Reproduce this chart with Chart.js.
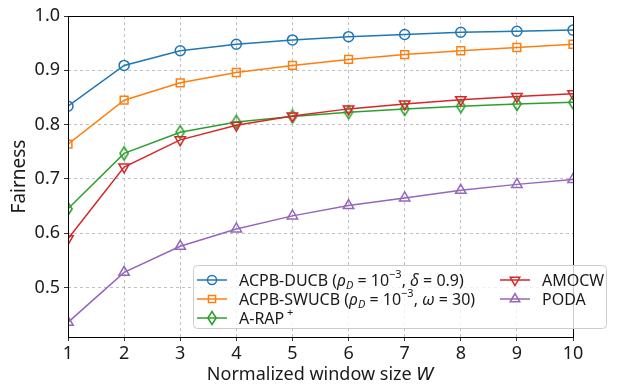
<!DOCTYPE html>
<html>
<head>
<meta charset="utf-8">
<script src="https://cdn.jsdelivr.net/npm/chart.js@4"></script>
<style>
  html, body { margin: 0; padding: 0; background: #fff; }
  #wrap { position: relative; width: 624px; height: 385px; }
</style>
</head>
<body>
<div id="wrap"><canvas id="c" width="624" height="385"></canvas></div>
<script>
var xVals = [1, 2, 3, 4, 5, 6, 7, 8, 9, 10];
var yTicks = [0.5, 0.6, 0.7, 0.8, 0.9, 1.0];
var ducb = [0.834, 0.909, 0.936, 0.948, 0.956, 0.962, 0.966, 0.970, 0.972, 0.974];
var swucb = [0.764, 0.845, 0.877, 0.896, 0.909, 0.920, 0.929, 0.936, 0.942, 0.948];
var arap = [0.645, 0.747, 0.786, 0.805, 0.815, 0.823, 0.829, 0.834, 0.838, 0.841];
var amocw = [0.590, 0.722, 0.772, 0.799, 0.816, 0.829, 0.838, 0.846, 0.852, 0.857];
var poda = [0.436, 0.528, 0.576, 0.608, 0.632, 0.651, 0.665, 0.679, 0.690, 0.699];

var blue = '#1f77b4', orange = '#ff7f0e', green = '#2ca02c', red = '#d62728', purple = '#9467bd';
var textColor = '#1a1a1a';
var fam = '"Noto Sans", "DejaVu Sans", sans-serif';
var mathFam = '"DejaVu Sans", sans-serif';

// thin diamond marker (matplotlib 'd')
function thinDiamond(color) {
  var c = document.createElement('canvas');
  c.width = 12; c.height = 16;
  var g = c.getContext('2d');
  g.strokeStyle = color; g.lineWidth = 1.5;
  g.beginPath();
  g.moveTo(6, 1.5); g.lineTo(10.2, 8); g.lineTo(6, 14.5); g.lineTo(1.8, 8); g.closePath();
  g.stroke();
  return c;
}

function pts(arr) {
  return arr.map(function(v, i) { return { x: xVals[i], y: v }; });
}

function series(label, arr, color, style, extra) {
  var d = {
    label: label, data: pts(arr), borderColor: color, backgroundColor: color,
    borderWidth: 1.5, pointStyle: style, pointRadius: 5.5, pointBorderWidth: 1.5,
    pointBackgroundColor: 'rgba(255,255,255,0)', pointBorderColor: color, tension: 0
  };
  for (var k in extra) d[k] = extra[k];
  return d;
}

var datasets = [
  series('PODA', poda, purple, 'triangle', { pointRadius: 6 }),
  series('AMOCW', amocw, red, 'triangle', { pointRotation: 180, pointRadius: 6 }),
  series('A-RAP+', arap, green, thinDiamond(green), {}),
  series('ACPB-SWUCB', swucb, orange, 'rect', { pointRadius: 5.5 }),
  series('ACPB-DUCB', ducb, blue, 'circle', { pointRadius: 5 })
];

// legend segments: n = text, i = italic, sub, sup
var legendItems = [
  { color: blue, style: 'circle', r: 4.5, rot: 0, col: 0, row: 0,
    text: [['ACPB-DUCB (', 'n'], ['ρ', 'i'], ['D', 'sub'], [' = 10', 'n'], ['−3', 'sup'], [', ', 'n'], ['δ', 'i'], [' = 0.9)', 'n']] },
  { color: orange, style: 'rect', r: 5, rot: 0, col: 0, row: 1,
    text: [['ACPB-SWUCB (', 'n'], ['ρ', 'i'], ['D', 'sub'], [' = 10', 'n'], ['−3', 'sup'], [', ', 'n'], ['ω', 'i'], [' = 30)', 'n']] },
  { color: green, style: thinDiamond(green), r: 5, rot: 0, col: 0, row: 2,
    text: [['A-RAP', 'n'], [' +', 'sup']] },
  { color: red, style: 'triangle', r: 5.5, rot: 180, col: 1, row: 0, text: [['AMOCW', 'n']] },
  { color: purple, style: 'triangle', r: 5.5, rot: 0, col: 1, row: 1, text: [['PODA', 'n']] }
];

function drawSegs(ctx, segs, x, y, size) {
  ctx.textBaseline = 'middle';
  ctx.textAlign = 'left';
  var small = Math.round(size * 0.7);
  segs.forEach(function(s) {
    var t = s[0], k = s[1], dy = 0, f;
    if (k === 'n') f = size + 'px ' + fam;
    else if (k === 'i') f = 'italic ' + size + 'px ' + fam;
    else if (k === 'sub') { f = 'italic ' + small + 'px ' + fam; dy = size * 0.28; }
    else { f = small + 'px ' + fam; dy = -size * 0.36; }
    ctx.font = f;
    ctx.fillText(t, x, y + dy);
    x += ctx.measureText(t).width;
  });
}

var extras = {
  id: 'extras',
  afterDraw: function(chart) {
    var ctx = chart.ctx, a = chart.chartArea;
    ctx.save();
    // frame
    ctx.strokeStyle = '#000'; ctx.lineWidth = 1; ctx.setLineDash([]);
    ctx.strokeRect(Math.round(a.left) + 0.5, Math.round(a.top) + 0.5, Math.round(a.right - a.left), Math.round(a.bottom - a.top));
    // legend box
    var bx = 193.5, by = 265.5, bw = 413, bh = 63, rr = 4;
    ctx.fillStyle = 'rgba(255,255,255,0.8)';
    ctx.strokeStyle = '#cccccc'; ctx.lineWidth = 1;
    ctx.beginPath();
    ctx.moveTo(bx + rr, by); ctx.lineTo(bx + bw - rr, by); ctx.arcTo(bx + bw, by, bx + bw, by + rr, rr);
    ctx.lineTo(bx + bw, by + bh - rr); ctx.arcTo(bx + bw, by + bh, bx + bw - rr, by + bh, rr);
    ctx.lineTo(bx + rr, by + bh); ctx.arcTo(bx, by + bh, bx, by + bh - rr, rr);
    ctx.lineTo(bx, by + rr); ctx.arcTo(bx, by, bx + rr, by, rr);
    ctx.closePath(); ctx.fill(); ctx.stroke();
    var colX = [197, 500], rowY = [280, 299, 318];
    legendItems.forEach(function(it) {
      var x0 = colX[it.col], y0 = rowY[it.row];
      ctx.strokeStyle = it.color; ctx.lineWidth = 1.5;
      ctx.beginPath(); ctx.moveTo(x0, y0); ctx.lineTo(x0 + 30, y0); ctx.stroke();
      ctx.fillStyle = 'rgba(255,255,255,0)';
      Chart.helpers.drawPoint(ctx, {
        pointStyle: it.style, radius: it.r, rotation: it.rot, borderWidth: 1.5
      }, x0 + 15, y0);
      ctx.fillStyle = textColor;
      drawSegs(ctx, it.text, x0 + 42, y0 + 1, 16);
    });
    ctx.restore();
  },
  beforeDraw: function(chart) {
    var ctx = chart.ctx, a = chart.chartArea;
    ctx.save();
    ctx.fillStyle = textColor;
    ctx.textBaseline = 'alphabetic';
    var s1 = 'Normalized window size ';
    ctx.font = '18px ' + fam;
    var w1 = ctx.measureText(s1).width;
    ctx.font = 'italic 18px ' + mathFam;
    var w2 = ctx.measureText('W').width;
    var x = (a.left + a.right) / 2 - (w1 + w2) / 2;
    ctx.font = '18px ' + fam;
    ctx.fillText(s1, x, 380);
    ctx.font = 'italic 18px ' + mathFam;
    ctx.fillText('W', x + w1, 380);
    ctx.restore();
  }
};

var gridCfg = { color: '#b0b0b0', tickLength: 4, tickColor: '#000', tickBorderDash: [], lineWidth: 0.8 };

new Chart(document.getElementById('c').getContext('2d'), {
  type: 'line',
  data: { datasets: datasets },
  options: {
    responsive: false, animation: false, devicePixelRatio: 1,
    layout: { padding: { top: 16, right: 51, left: 0, bottom: 0 } },
    plugins: { legend: { display: false }, tooltip: { enabled: false } },
    scales: {
      x: {
        type: 'linear', min: 1, max: 10,
        afterBuildTicks: function(s) { s.ticks = xVals.map(function(v) { return { value: v }; }); },
        afterFit: function(s) { s.height = 48; },
        ticks: { color: textColor, font: { family: fam, size: 18 }, padding: 2, maxRotation: 0 },
        grid: gridCfg,
        border: { display: false, dash: [3, 3] }
      },
      y: {
        type: 'linear', min: 0.409, max: 1.0,
        afterBuildTicks: function(s) { s.ticks = yTicks.map(function(v) { return { value: v }; }); },
        afterFit: function(s) { s.width = 68; },
        ticks: { color: textColor, font: { family: fam, size: 18 }, padding: 4,
          callback: function(v) { return v.toFixed(1); } },
        grid: gridCfg,
        border: { display: false, dash: [3, 3] },
        title: { display: true, text: 'Fairness', color: textColor, font: { family: fam, size: 19 }, padding: { top: 8, bottom: 0 } }
      }
    }
  },
  plugins: [extras]
});
</script>
</body>
</html>
